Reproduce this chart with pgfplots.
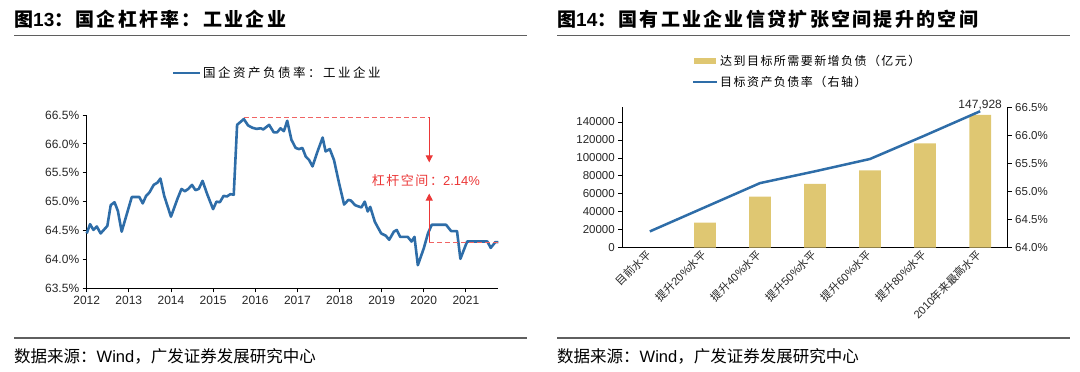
\documentclass[border=0pt]{standalone}
\usepackage{pgfplots}
\pgfplotsset{compat=1.18}
\usetikzlibrary{arrows.meta}
\usepackage{fontspec}
\setmainfont{Liberation Sans}
\newfontfamily\cjk{Noto Sans CJK SC}
\newfontfamily\cjkA[LetterSpace=12]{Noto Sans CJK SC}
\newfontfamily\cjkT[LetterSpace=12]{Noto Sans CJK SC}
\newfontfamily\cjkB[LetterSpace=20]{Noto Sans CJK SC}
\definecolor{lineblue}{RGB}{46,109,168}
\definecolor{bargold}{RGB}{223,199,114}
\definecolor{annred}{RGB}{235,55,55}
\definecolor{dashred}{RGB}{240,100,100}
\definecolor{rulegray}{RGB}{95,95,95}
\begin{document}
\begin{tikzpicture}
\path (0pt,0pt) rectangle (1080pt,-372pt);
% titles
\node[anchor=west,inner sep=0pt,font=\fontsize{19}{21}\selectfont\bfseries] at (14pt,-19.5pt) {{\cjkT 图}13{\cjkT ：国企杠杆率：工业企业}};
\node[anchor=west,inner sep=0pt,font=\fontsize{19}{21}\selectfont\bfseries] at (557pt,-19.5pt) {{\cjkT 图}14{\cjkT ：国有工业企业信贷扩张空间提升的空间}};
\draw[rulegray,line width=1.5pt] (14pt,-35.5pt) -- (527pt,-35.5pt);
\draw[rulegray,line width=1.5pt] (557pt,-35.5pt) -- (1070pt,-35.5pt);
\draw[rulegray,line width=1.5pt] (14pt,-338pt) -- (527pt,-338pt);
\draw[rulegray,line width=1.5pt] (557pt,-338pt) -- (1070pt,-338pt);
\node[anchor=west,inner sep=0pt,font=\fontsize{16.5}{18}\selectfont] at (14pt,-356pt) {{\cjk 数据来源：}Wind{\cjk ，广发证券发展研究中心}};
\node[anchor=west,inner sep=0pt,font=\fontsize{16.5}{18}\selectfont] at (557pt,-356pt) {{\cjk 数据来源：}Wind{\cjk ，广发证券发展研究中心}};
% left legend
\draw[lineblue,line width=2.2pt] (173pt,-73pt) -- (200pt,-73pt);
\node[anchor=west,inner sep=0pt,font=\fontsize{12.5}{14}\selectfont] at (203pt,-73pt) {\cjkB 国企资产负债率：工业企业};
% right legend
\fill[bargold] (694pt,-58pt) rectangle (716pt,-64pt);
\node[anchor=west,inner sep=0pt,font=\fontsize{12}{14}\selectfont] at (720pt,-61pt) {\cjkA 达到目标所需要新增负债（亿元）};
\draw[lineblue,line width=2.2pt] (693pt,-82.3pt) -- (717pt,-82.3pt);
\node[anchor=west,inner sep=0pt,font=\fontsize{12}{14}\selectfont] at (720pt,-82.3pt) {\cjkA 目标资产负债率（右轴）};

% left chart
\begin{axis}[at={(86.7pt,-288.3pt)}, anchor=south west, scale only axis,
  width=411.6pt, height=173.3pt,
  xmin=2012, xmax=2021.77, ymin=63.5, ymax=66.5,
  axis x line*=bottom, axis y line*=left,
  axis line style={line width=1pt,black},
  tick align=outside, major tick length=4pt,
  tick style={black,line width=0.8pt},
  xtick={2012,2013,2014,2015,2016,2017,2018,2019,2020,2021},
  ytick={63.5,64.0,64.5,65.0,65.5,66.0,66.5},
  /pgf/number format/assume math mode=true,
  xticklabel={\pgfmathprintnumber[1000 sep={},precision=0,fixed]{\tick}},
  yticklabel={\pgfmathprintnumber[fixed,fixed zerofill,precision=1]{\tick}\%},
  ticklabel style={font=\fontsize{12}{12}\selectfont, text=black!85},
  clip=false]
\addplot[lineblue, line width=2.6pt, line join=round] coordinates {
(2012.00,64.45) (2012.08,64.61) (2012.16,64.51) (2012.24,64.57) (2012.33,64.45)
(2012.49,64.58) (2012.57,64.94) (2012.66,64.99) (2012.74,64.84) (2012.83,64.48)
(2013.07,65.08) (2013.25,65.08) (2013.33,64.97) (2013.41,65.10) (2013.49,65.16)
(2013.59,65.29) (2013.68,65.33) (2013.75,65.40) (2013.84,65.10) (2014.00,64.74)
(2014.16,65.06) (2014.25,65.22) (2014.33,65.18) (2014.41,65.22) (2014.50,65.29)
(2014.58,65.20) (2014.66,65.22) (2014.75,65.36) (2014.86,65.13) (2015.00,64.87)
(2015.08,65.00) (2015.16,64.99) (2015.25,65.10) (2015.33,65.09) (2015.41,65.13)
(2015.49,65.12) (2015.57,66.33) (2015.73,66.43) (2015.83,66.32) (2015.93,66.28)
(2016.03,66.26) (2016.13,66.27) (2016.19,66.25) (2016.33,66.33) (2016.44,66.20)
(2016.52,66.20) (2016.60,66.27) (2016.68,66.22) (2016.76,66.40) (2016.86,66.07)
(2016.96,65.93) (2017.04,65.91) (2017.12,65.93) (2017.20,65.78) (2017.28,65.72)
(2017.36,65.61) (2017.48,65.87) (2017.60,66.11) (2017.67,65.87) (2017.77,65.91)
(2017.87,65.72) (2017.99,65.32) (2018.11,64.95) (2018.21,65.03) (2018.27,65.02)
(2018.37,64.94) (2018.44,64.92) (2018.52,64.90) (2018.60,65.00) (2018.67,64.83)
(2018.73,64.91) (2018.84,64.65) (2018.99,64.45) (2019.10,64.41) (2019.18,64.34)
(2019.29,64.48) (2019.36,64.51) (2019.44,64.39) (2019.62,64.39) (2019.71,64.31)
(2019.78,64.39) (2019.86,63.90) (2020.00,64.19) (2020.10,64.45) (2020.19,64.60)
(2020.53,64.60) (2020.65,64.49) (2020.79,64.49) (2020.87,64.01) (2021.03,64.31)
(2021.51,64.31) (2021.59,64.20) (2021.70,64.30) (2021.77,64.30)
};
\draw[dashred, line width=1pt, dash pattern=on 5pt off 3pt] (axis cs:2015.73,66.46) -- (axis cs:2020.13,66.46);
\draw[dashred, line width=1pt, dash pattern=on 5pt off 3pt] (axis cs:2020.13,64.30) -- (axis cs:2021.77,64.30);
\draw[annred, line width=1pt, -{Triangle[width=7pt,length=7pt]}] (axis cs:2020.13,66.46) -- (axis cs:2020.13,65.68);
\draw[annred, line width=1pt, -{Triangle[width=7pt,length=7pt]}] (axis cs:2020.13,64.30) -- (axis cs:2020.13,65.14);
\node[annred, font=\fontsize{13}{13}\selectfont] at (axis cs:2020.05,65.36) {{\cjkA 杠杆空间：}2.14\%};
\end{axis}

% right chart: bars
\begin{axis}[at={(622.3pt,-247.7pt)}, anchor=south west, scale only axis,
  width=385.4pt, height=140.4pt,
  xmin=-0.5, xmax=6.5, ymin=0, ymax=156400,
  axis x line*=bottom, axis y line*=left,
  axis line style={line width=1pt,black},
  tick align=outside, major tick length=4pt, minor tick length=4pt,
  tick style={black,line width=0.8pt},
  xtick={0,1,2,3,4,5,6}, xtick style={draw=none},
  minor xtick={-0.5,0.5,1.5,2.5,3.5,4.5,5.5,6.5},
  minor x tick style={black,line width=0.8pt},
  xticklabels={{\cjk 目前水平},{\cjk 提升}20\%{\cjk 水平},{\cjk 提升}40\%{\cjk 水平},{\cjk 提升}50\%{\cjk 水平},{\cjk 提升}60\%{\cjk 水平},{\cjk 提升}80\%{\cjk 水平},2010{\cjk 年来最高水平}},
  xticklabel style={rotate=45, anchor=east, font=\fontsize{11}{11}\selectfont, text=black!85, inner sep=1pt},
  ytick={0,20000,40000,60000,80000,100000,120000,140000},
  scaled y ticks=false,
  /pgf/number format/assume math mode=true,
  yticklabel={\pgfmathprintnumber[1000 sep={},fixed,precision=0]{\tick}},
  yticklabel style={font=\fontsize{11.5}{11.5}\selectfont, text=black!85},
  clip=false]
\addplot[ybar, bar width=0.395, fill=bargold, draw=none] coordinates {
(1,27800) (2,56800) (3,71000) (4,86200) (5,116300) (6,147928)};
\end{axis}

% right chart: line on right axis
\begin{axis}[at={(622.3pt,-247.7pt)}, anchor=south west, scale only axis,
  width=385.4pt, height=140.4pt,
  xmin=-0.5, xmax=6.5, ymin=64, ymax=66.5,
  axis x line=none, axis y line*=right,
  axis line style={line width=1pt,black},
  tick align=outside, major tick length=4pt,
  tick style={black,line width=0.8pt},
  ytick={64.0,64.5,65.0,65.5,66.0,66.5},
  /pgf/number format/assume math mode=true,
  yticklabel={\pgfmathprintnumber[fixed,fixed zerofill,precision=1]{\tick}\%},
  yticklabel style={font=\fontsize{11.5}{11.5}\selectfont, text=black!85},
  clip=false]
\addplot[lineblue, line width=2.5pt] coordinates {
(0,64.29) (1,64.72) (2,65.15) (3,65.36) (4,65.58) (5,66.00) (6,66.43)};
\node[anchor=south, inner sep=1pt, font=\fontsize{12}{12}\selectfont, text=black!85] at (axis cs:6,66.43) {147,928};
\end{axis}
\end{tikzpicture}
\end{document}
